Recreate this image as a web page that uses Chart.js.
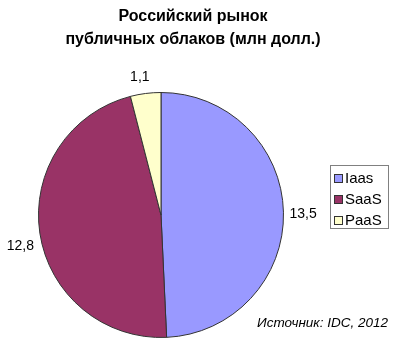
<!DOCTYPE html>
<html>
<head>
<meta charset="utf-8">
<script src="https://cdn.jsdelivr.net/npm/chart.js@4"></script>
<style>
  html, body { margin: 0; padding: 0; background: #fff; }
  #wrap { width: 400px; height: 349px; position: relative; }
</style>
</head>
<body>
<div id="wrap"><canvas id="chart"></canvas></div>
<script>
// chart data
const categories = ['Iaas', 'SaaS', 'PaaS'];
const values = [13.5, 12.8, 1.1];
const sliceColors = ['#9999FF', '#993366', '#FFFFCC'];
const titleLines = ['Российский рынок', 'публичных облаков (млн долл.)'];
const sourceText = 'Источник: IDC, 2012';

const FONT = "'Liberation Sans', Arial, sans-serif";

const fmt = v => String(v).replace('.', ',');

// draws title, slice value labels, legend box and source note
const decorations = {
  id: 'decorations',
  afterDraw(chart) {
    const ctx = chart.ctx;
    ctx.save();

    // title
    ctx.fillStyle = '#000';
    ctx.font = 'bold 16px ' + FONT;
    ctx.textAlign = 'center';
    ctx.textBaseline = 'middle';
    ctx.fillText(titleLines[0], 193, 17);
    ctx.fillText(titleLines[1], 193, 40);

    // value labels outside slices
    ctx.font = '14px ' + FONT;
    const arcs = chart.getDatasetMeta(0).data;
    arcs.forEach((arc, i) => {
      const p = arc.getProps(['x', 'y', 'startAngle', 'endAngle', 'outerRadius'], true);
      const mid = (p.startAngle + p.endAngle) / 2;
      const r = p.outerRadius + 6;
      const lx = p.x + Math.cos(mid) * r;
      const ly = p.y + Math.sin(mid) * r;
      const c = Math.cos(mid), s = Math.sin(mid);
      if (Math.abs(c) > 0.5) {
        ctx.textAlign = c > 0 ? 'left' : 'right';
        ctx.textBaseline = 'middle';
        ctx.fillText(fmt(values[i]), lx, ly + (s > 0 ? 12 : 2));
      } else {
        ctx.textAlign = 'center';
        ctx.textBaseline = s < 0 ? 'bottom' : 'top';
        ctx.fillText(fmt(values[i]), lx - 5, ly - 3);
      }
    });

    // legend
    ctx.strokeStyle = '#808080';
    ctx.lineWidth = 1;
    ctx.strokeRect(330.5, 165.5, 58, 63);
    ctx.font = '15px ' + FONT;
    ctx.textAlign = 'left';
    ctx.textBaseline = 'middle';
    categories.forEach((name, i) => {
      const y = 178 + i * 21;
      ctx.fillStyle = sliceColors[i];
      ctx.fillRect(334, y - 4, 9, 9);
      ctx.strokeStyle = '#333';
      ctx.strokeRect(334.5, y - 3.5, 8, 8);
      ctx.fillStyle = '#000';
      ctx.fillText(name, 345, y + 1);
    });

    // source
    ctx.font = 'italic 13.5px ' + FONT;
    ctx.textAlign = 'right';
    ctx.fillText(sourceText, 388, 323);

    ctx.restore();
  }
};

new Chart(document.getElementById('chart'), {
  type: 'pie',
  data: {
    labels: categories,
    datasets: [{
      data: values,
      backgroundColor: sliceColors,
      borderColor: '#333',
      borderWidth: 1,
      hoverOffset: 0
    }]
  },
  options: {
    responsive: true,
    maintainAspectRatio: false,
    animation: false,
    layout: { padding: { left: 38, right: 116, top: 92, bottom: 11 } },
    plugins: {
      legend: { display: false },
      title: { display: false },
      tooltip: { enabled: false }
    }
  },
  plugins: [decorations]
});
</script>
</body>
</html>
